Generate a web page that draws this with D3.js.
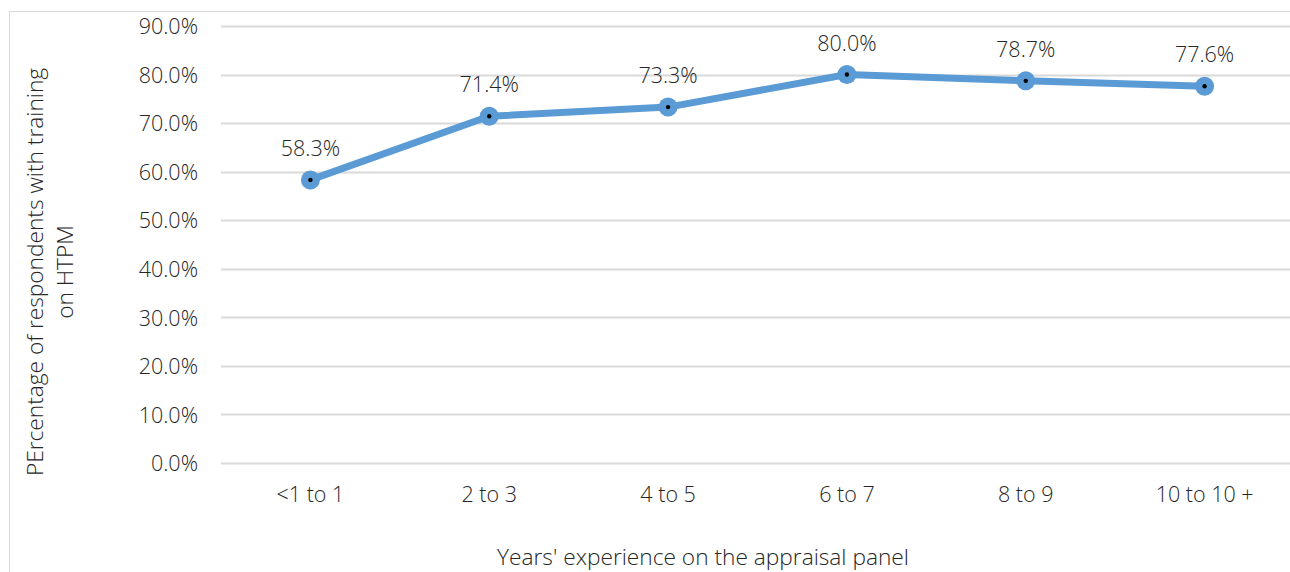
<!DOCTYPE html>
<html>
<head>
<meta charset="utf-8">
<script src="https://cdn.jsdelivr.net/npm/d3@7"></script>
<style>
  html, body { margin: 0; padding: 0; background: #fff; }
  svg { display: block; font-family: "Open Sans", "Noto Sans", sans-serif; }
</style>
</head>
<body>
<svg id="chart" width="1290" height="572"></svg>
<script>
// Share of respondents with HTPM training, by years on the appraisal panel
const categories = ["<1 to 1", "2 to 3", "4 to 5", "6 to 7", "8 to 9", "10 to 10 +"];
const values = [58.3, 71.4, 73.3, 80.0, 78.7, 77.6];
const yTicks = [0, 10, 20, 30, 40, 50, 60, 70, 80, 90];
const yTitleLines = ["PErcentage of respondents with training", "on HTPM"];
const xTitle = "Years' experience on the appraisal panel";

const svg = d3.select("#chart");
const W = 1290, H = 572;
const plot = { left: 221, right: 1294, top: 26, bottom: 463 };
const textColor = "#262626";
const tickFont = 21.5;
const titleFont = 22.7;

const x = d3.scaleBand().domain(categories).range([plot.left, plot.right]).padding(0);
const y = d3.scaleLinear().domain([0, 90]).range([plot.bottom, plot.top]);

// chart area frame
svg.append("rect")
  .attr("x", 9.5).attr("y", 11.5)
  .attr("width", W + 10).attr("height", H + 10)
  .attr("fill", "#fff").attr("stroke", "#d9d9d9").attr("stroke-width", 1);

// horizontal gridlines
svg.append("g")
  .selectAll("line").data(yTicks).join("line")
  .attr("x1", plot.left).attr("x2", plot.right)
  .attr("y1", d => Math.round(y(d)) + 0.5).attr("y2", d => Math.round(y(d)) + 0.5)
  .attr("stroke", "#d9d9d9").attr("stroke-width", 2);

// y axis labels
const yAxis = d3.axisLeft(y).tickValues(yTicks).tickSize(0).tickPadding(0)
  .tickFormat(d => d.toFixed(1) + "%");
const gy = svg.append("g").attr("transform", `translate(${198},0)`).call(yAxis);
gy.select(".domain").remove();
gy.selectAll("text").attr("font-size", tickFont).attr("fill", textColor)
  .attr("font-weight", 300)
  .attr("font-family", "'Open Sans', sans-serif").attr("dy", "0.36em");

// x axis labels
const xAxis = d3.axisBottom(x).tickSize(0).tickPadding(0);
const gx = svg.append("g").attr("transform", `translate(0,${494})`).call(xAxis);
gx.select(".domain").remove();
gx.selectAll("text").attr("font-size", tickFont).attr("fill", textColor)
  .attr("font-weight", 300)
  .attr("font-family", "'Open Sans', sans-serif").attr("dy", "0.36em");

// axis titles
const yt = svg.append("text")
  .attr("transform", `translate(50,${272}) rotate(-90)`)
  .attr("text-anchor", "middle").attr("font-size", titleFont)
  .attr("font-weight", 300).attr("fill", textColor);
yt.selectAll("tspan").data(yTitleLines).join("tspan")
  .attr("x", 0).attr("dy", (d, i) => i === 0 ? "-0.3em" : "1.32em")
  .text(d => d);

svg.append("text")
  .attr("x", 703).attr("y", 565)
  .attr("text-anchor", "middle").attr("font-size", titleFont)
  .attr("font-weight", 300).attr("fill", textColor)
  .text(xTitle);

const cx = d => x(d) + x.bandwidth() / 2;

// series line
const line = d3.line().x((d, i) => cx(categories[i])).y(d => y(d));
svg.append("path").datum(values)
  .attr("d", line).attr("fill", "none")
  .attr("stroke", "#5b9bd5").attr("stroke-width", 7).attr("stroke-linejoin", "round");

// markers
const pts = svg.append("g").selectAll("g").data(values).join("g")
  .attr("transform", (d, i) => `translate(${cx(categories[i])},${y(d)})`);
pts.append("circle").attr("r", 9.5).attr("fill", "#5b9bd5");
pts.append("circle").attr("r", 2.2).attr("fill", "#000");

// value labels
svg.append("g").selectAll("text").data(values).join("text")
  .attr("x", (d, i) => cx(categories[i]))
  .attr("y", d => y(d) - 24)
  .attr("text-anchor", "middle").attr("font-size", tickFont)
  .attr("font-weight", 300).attr("fill", textColor)
  .text(d => d.toFixed(1) + "%");
</script>
</body>
</html>
